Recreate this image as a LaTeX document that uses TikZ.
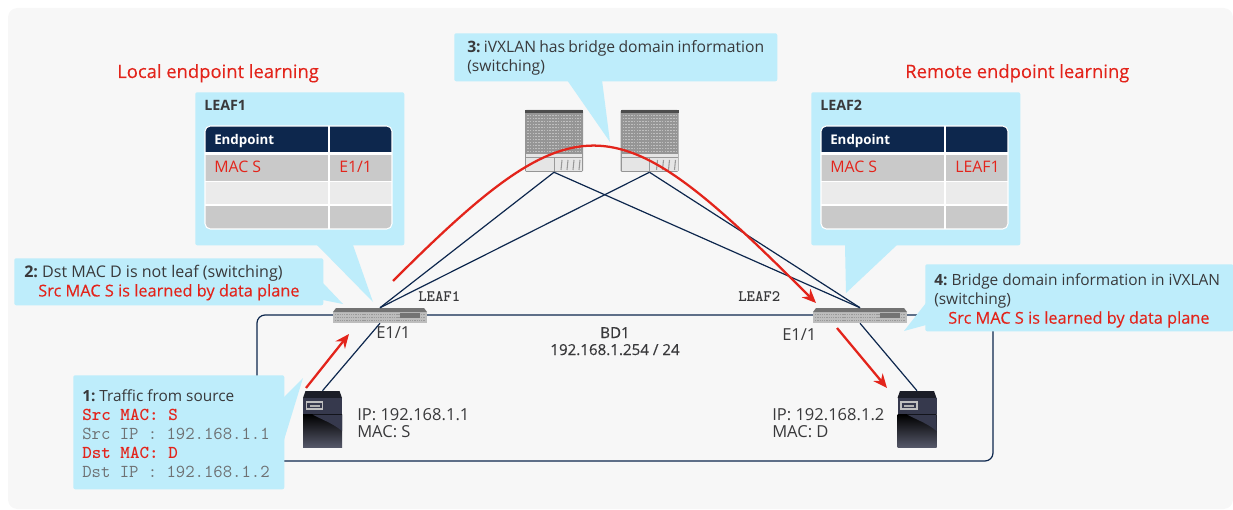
\documentclass[tikz,border=0pt]{standalone}
\usepackage{fontspec}
\setmainfont{Open Sans}
\usetikzlibrary{arrows.meta}
\definecolor{bgc}{HTML}{F7F7F7}
\definecolor{bubblec}{HTML}{BEEDFB}
\definecolor{navyc}{HTML}{0D274D}
\definecolor{redc}{HTML}{E3241B}
\definecolor{txtc}{HTML}{39393B}
\definecolor{monoc}{HTML}{6E7173}
\definecolor{rowa}{HTML}{C9C9C9}
\definecolor{rowb}{HTML}{EBEBEB}
\definecolor{swc}{HTML}{BDBDBD}
\definecolor{spc}{HTML}{959595}
\definecolor{srvc}{HTML}{36394D}
\newcommand{\medred}[1]{\textcolor{redc}{\fontsize{12.25}{14.25}\selectfont\addfontfeature{FakeBold=0.2}#1}}
\newcommand{\monoline}[2]{{\fontsize{13.65}{14.25}\ttfamily\textcolor{#1}{#2}}}
\newcommand{\stepnum}[1]{\textbf{#1}\ }
\tikzset{
  bubble/.style 2 args={fill=bubblec,rounded corners=1.5pt,anchor=north west,align=left,
    text=txtc,inner ysep=0pt,inner xsep=6.75pt,text width=#1,minimum height=#2,
    font=\fontsize{11.55}{14.25}\selectfont,execute at begin node={\spaceskip=0pt\relax}},
  lbl/.style={anchor=base west,inner sep=0pt,text=txtc,font=\fontsize{12.4}{14}\selectfont},
  tbl/.style={lbl,font=\fontsize{11.9}{14}\selectfont},
  link/.style={navyc,line width=.9pt},
  flow/.style={redc,line width=1.7pt,-{Stealth[length=10.5pt,width=9pt]}},
  switchbox/.style={fill=swc,minimum width=70.5pt,minimum height=11.25pt,inner sep=0pt},
  spinebox/.style={fill=spc,rounded corners=1pt,minimum width=43.5pt,minimum height=46.5pt,inner sep=0pt},
  serverbox/.style={minimum width=29.25pt,minimum height=42pt,inner sep=0pt},
}
\begin{document}
\begin{tikzpicture}[x=.75pt,y=-.75pt]
  \useasboundingbox (0,0) rectangle (1233,510);
  \fill[bgc,rounded corners=7pt] (8,8) rectangle (1233,509);

  \node[draw=navyc,line width=.9pt,rounded corners=6pt,minimum width=552pt,minimum height=109.5pt,inner sep=0pt] (bd) at (625,388) {};

  \foreach \n/\x in {sp1/554,sp2/649.5} {
    \node[spinebox] (\n) at (\x,141) {};
    \fill[black!70] (\x-29,110) rectangle (\x+29,113);
    \foreach \r in {115,118,...,151}
      \draw[black!25,line width=.7pt,dash pattern=on 1.2pt off .9pt] (\x-27,\r) -- (\x+27,\r);
    \fill[black!10] (\x-28,154) rectangle (\x+28,171);
    \draw[black!40,line width=.5pt] (\x-28,157) -- (\x+28,157);
    \draw[black!40,line width=.5pt] (\x,157) -- (\x,171);
    \foreach \d in {8,14,20,26}
      \draw[black!40,line width=.8pt] (\x+\d,160) -- (\x+\d-1,170);
  }
  \node[switchbox] (sw1) at (380,315.5) {};
  \node[switchbox] (sw2) at (860,315.5) {};
  \foreach \n/\x in {sw1/380,sw2/860} {
    \fill[bgc] (\x-47,308) rectangle (\x+47,312);
    \fill[black!55] (\x-44,308) -- (\x+44,308) -- (\x+47,312) -- (\x-47,312) -- cycle;
    \foreach \r in {314.5,317.5,320.5}
      \draw[black!40,line width=.6pt,dash pattern=on 1pt off .7pt] (\x-45,\r) -- (\x+45,\r);
    \fill[black!55] (\x+20,313) rectangle (\x+40,318);
  }
  \node[serverbox] (srv1) at (322.5,419) {};
  \node[serverbox] (srv2) at (917,419) {};
  \foreach \n/\x in {srv1/322.5,srv2/917} {
    \fill[black!50!srvc] (\x-19.5,398) -- (\x-17,391) -- (\x+17,391) -- (\x+19.5,398) -- cycle;
    \fill[srvc] (\x-19.5,398) rectangle (\x+19.5,414);
    \shade[top color=black,bottom color=srvc!85!white] (\x-19.5,414.5) rectangle (\x+19.5,447);
    \fill[srvc] (\x-10,414.5) .. controls (\x,420) and (\x+10,423) .. (\x+19.5,431) -- (\x+19.5,414.5) -- cycle;
    \draw[white!75!black,line width=.8pt] (\x-16,402) rectangle (\x,409);
    \fill[white!70!black] (\x-13,404.5) rectangle (\x-3,406.5);
  }

  \foreach \from/\to in {sp1/sw1,sp1/sw2,sp2/sw1,sp2/sw2}
    \draw[link] (\from.south) -- (\to.north);
  \foreach \from/\to in {sw1/srv1,sw2/srv2}
    \draw[link] (\from.south) -- (\to.north);

  \coordinate (f1) at (306,388);
  \coordinate (f2) at (349,334);
  \coordinate (f3) at (393,281);
  \coordinate (f4) at (816,303);
  \coordinate (f5) at (837,328);
  \coordinate (f6) at (887,388);
  \draw[flow] (f1) -- (f2);
  \draw[flow] (f3) .. controls (581,93) and (616,103) .. (f4);
  \draw[flow] (f5) -- (f6);

  \fill[bubblec] (317,245) -- (373,302) -- (353,245) -- cycle;
  \fill[bubblec] (845,245) -- (846,293) -- (897,245) -- cycle;
  \fill[bubblec] (323,283) -- (343,304) -- (323,300) -- cycle;
  \fill[bubblec] (284,397) -- (303,378) -- (284,440) -- cycle;
  \fill[bubblec] (567,80) -- (610,142) -- (602,80) -- cycle;
  \fill[bubblec] (926,303) -- (904,331) -- (926,325) -- cycle;

  \node[bubble={143.25pt}{114.75pt}] (lb1) at (195,92) {};
  \node[bubble={143.25pt}{114.75pt}] (lb2) at (811,92) {};
  \foreach \n/\x/\t/\val in {tb1/205/LEAF1/E1\slash 1,tb2/821/LEAF2/LEAF1} {
    \begin{scope}
      \clip[rounded corners=4pt] (\x,126) rectangle (\x+187,229);
      \fill[white] (\x,126) rectangle (\x+187,229);
      \fill[navyc] (\x,126) rectangle (\x+187,152);
      \fill[rowa] (\x,155) rectangle (\x+187,181);
      \fill[rowb] (\x,182) rectangle (\x+187,204);
      \fill[rowa] (\x,205.5) rectangle (\x+187,229);
      \draw[white,line width=.8pt] (\x+124,126) -- (\x+124,229);
    \end{scope}
    \draw[white,line width=.8pt,rounded corners=4pt] (\x,126) rectangle (\x+187,229);
    \node[lbl,font=\fontsize{10.7}{14}\selectfont] (\n-t) at (\x-1,111) {\bfseries\t};
    \node[lbl,text=white,font=\fontsize{10}{14}\selectfont] (\n-h) at (\x+9,145) {\bfseries Endpoint};
    \node[tbl,text=redc] (\n-a) at (\x+9,172) {MAC S};
    \node[tbl,text=redc] (\n-b) at (\x+134,172) {\val};
  }

  \node[bubble={216.75pt}{35.25pt},inner xsep=7.5pt,font=\fontsize{12.05}{14}\selectfont] (c2) at (14,258)
    {\rule{0pt}{11pt}\stepnum{2:}Dst MAC D is not leaf (switching)\\ \hspace*{10.5pt}\medred{Src MAC S is learned by data plane}};
  \node[bubble={144.75pt}{85.5pt},inner xsep=6.75pt] (c1) at (73,375)
    {\rule{0pt}{11.5pt}\stepnum{1:}Traffic from source\\
     \monoline{redc}{\bfseries Src MAC: S}\\
     \monoline{monoc}{Src IP : 192.168.1.1}\\
     \monoline{redc}{\bfseries Dst MAC: D}\\
     \monoline{monoc}{Dst IP : 192.168.1.2}};
  \node[bubble={222.75pt}{36pt},inner xsep=9.75pt,font=\fontsize{11.75}{14.25}\selectfont] (c3) at (454,33)
    {\rule{0pt}{10.5pt}\stepnum{3:}iVXLAN has bridge domain information\\ (switching)};
  \node[bubble={217.5pt}{50.25pt},font=\fontsize{11.6}{14.4}\selectfont] (c4) at (925,264)
    {\rule{0pt}{13pt}\stepnum{4:}Bridge domain information in iVXLAN\\ (switching)\\ \hspace*{10.5pt}\medred{Src MAC S is learned by data plane}};

  \node[lbl,text=redc,font=\fontsize{13.8}{16}\selectfont] (t1) at (117,78) {\addfontfeature{FakeBold=0.2}Local endpoint learning};
  \node[lbl,text=redc,font=\fontsize{13.8}{16}\selectfont] (t2) at (905,78) {\addfontfeature{FakeBold=0.2}Remote endpoint learning};

  \node[lbl,font=\fontsize{12}{12}\ttfamily\bfseries] (n1) at (418,301) {LEAF1};
  \node[lbl,font=\fontsize{12}{12}\ttfamily\bfseries] (n2) at (738,301) {LEAF2};
  \node[lbl] (p1) at (376,338) {E1/1};
  \node[lbl] (p2) at (782,340) {E1/1};
  \node[lbl,anchor=base,align=center,font=\fontsize{11.35}{14}\selectfont] (bd1) at (615,338) {\addfontfeature{FakeBold=0.3}BD1};
  \node[lbl,anchor=base,align=center,font=\fontsize{11.35}{14}\selectfont] (bd2) at (615,355) {\addfontfeature{FakeBold=0.3}192.168.1.254 / 24};
  \node[lbl] (i1) at (357,420) {IP: 192.168.1.1};
  \node[lbl] (m1) at (357,437) {MAC: S};
  \node[lbl] (i2) at (772,420) {IP: 192.168.1.2};
  \node[lbl] (m2) at (772,437) {MAC: D};
\end{tikzpicture}
\end{document}
